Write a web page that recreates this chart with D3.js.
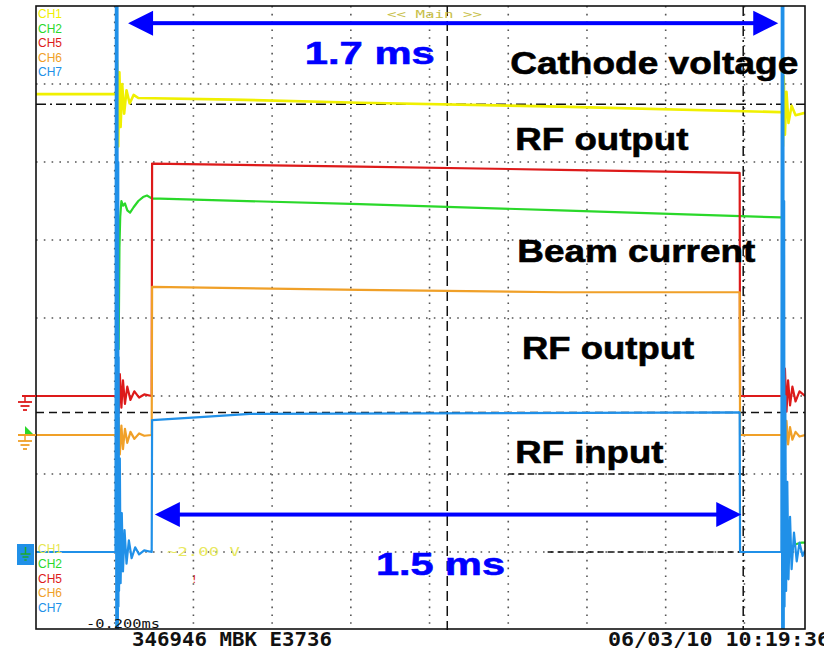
<!DOCTYPE html>
<html>
<head>
<meta charset="utf-8">
<script src="https://cdn.jsdelivr.net/npm/d3@7"></script>
<style>
  body { margin: 0; background: #fff; }
  svg { display: block; }
</style>
</head>
<body>
<div id="scope"></div>
<script>
// time in ms, level in screen divisions (0 = bottom of screen, 8 = top)
const ch1 = [[-0.2,6.87],[0.004,6.87],[0.006,7.3],[0.009,6.2],[0.012,7.15],[0.015,6.45],[0.019,7.0],[0.024,6.62],[0.030,6.92],[0.038,6.75],[0.048,6.86],[0.06,6.82],[0.3,6.8],[0.623,6.76],[1.132,6.71],[1.69,6.64],[1.696,6.64],[1.698,6.2],[1.700,7.1],[1.703,6.35],[1.707,6.9],[1.712,6.5],[1.72,6.72],[1.73,6.6],[1.754,6.63]];
const ch2 = [[-0.2,1.0],[0.006,1.0],[0.008,4.05],[0.010,3.6],[0.012,4.9],[0.014,5.3],[0.017,5.5],[0.021,5.44],[0.026,5.47],[0.032,5.38],[0.039,5.35],[0.048,5.42],[0.06,5.5],[0.072,5.55],[0.082,5.57],[0.095,5.53],[0.115,5.53],[0.623,5.46],[1.132,5.38],[1.691,5.29],[1.697,5.29],[1.698,3.5],[1.700,1.8],[1.703,1.35],[1.707,1.2],[1.712,1.1],[1.72,1.06],[1.73,1.1],[1.745,1.12],[1.754,1.12]];
const ch5 = [[-0.2,3.0],[0.005,3.0],[0.007,3.35],[0.010,2.78],[0.013,3.28],[0.017,2.85],[0.021,3.2],[0.026,2.9],[0.032,3.12],[0.04,2.95],[0.05,3.06],[0.062,2.98],[0.075,3.02],[0.094,3.0],[0.095,5.98],[0.623,5.94],[1.132,5.9],[1.588,5.86],[1.589,3.0],[1.696,3.0],[1.698,3.9],[1.700,2.7],[1.703,3.35],[1.707,2.8],[1.711,3.2],[1.716,2.88],[1.722,3.12],[1.73,2.93],[1.74,3.06],[1.754,3.0]];
const ch6 = [[-0.2,2.5],[0.005,2.5],[0.007,2.2],[0.010,2.72],[0.013,2.25],[0.017,2.62],[0.021,2.32],[0.026,2.58],[0.032,2.4],[0.04,2.54],[0.05,2.45],[0.062,2.52],[0.075,2.49],[0.094,2.5],[0.095,4.4],[0.623,4.36],[1.132,4.33],[1.588,4.33],[1.589,2.5],[1.696,2.5],[1.698,2.2],[1.700,2.85],[1.703,2.3],[1.707,2.68],[1.711,2.38],[1.716,2.6],[1.722,2.44],[1.73,2.54],[1.74,2.48],[1.754,2.5]];
const ch7 = [[-0.2,1.0],[0.002,1.0],[0.003,8.2],[0.004,-0.2],[0.005,8.2],[0.006,-0.2],[0.007,8.2],[0.008,-0.2],[0.009,6.0],[0.0095,0.3],[0.010,3.5],[0.011,0.5],[0.013,2.2],[0.015,0.6],[0.018,1.5],[0.021,0.75],[0.025,1.28],[0.03,0.85],[0.036,1.15],[0.043,0.92],[0.052,1.06],[0.062,0.97],[0.075,1.02],[0.094,1.0],[0.095,2.69],[0.217,2.73],[0.344,2.77],[1.0,2.78],[1.588,2.79],[1.589,1.0],[1.694,1.0],[1.695,8.2],[1.696,-0.2],[1.697,8.2],[1.698,-0.2],[1.699,8.2],[1.700,-0.2],[1.701,5.5],[1.702,0.3],[1.704,3.0],[1.706,0.5],[1.709,1.9],[1.712,0.65],[1.716,1.45],[1.72,0.78],[1.726,1.25],[1.733,0.88],[1.74,1.12],[1.748,0.95],[1.754,1.02]];

const channels = ["CH1","CH2","CH5","CH6","CH7"];
const chColors = ["#f0f000","#2ad82a","#dd1a1a","#f0a028","#2090e8"];
const gridTimes = [0, 0.2, 0.4, 0.6, 0.8, 1.0, 1.2, 1.4, 1.6];
const gridLevels = [1, 2, 3, 4, 5, 6, 7];
const groundLevels = [3.0, 2.5, 1.0]; // CH5, CH6, CH7 markers

// cursors: horizontal (level) and vertical (time) reference lines
const hCursors = [{v:6.74, from:-0.2, to:1.754, dash:"10,4,2,4"}, {v:2.79, from:-0.2, to:1.754, dash:"8,5"},
                  {v:2.0, from:1.0, to:1.597, dash:"6,4"}, {v:1.0, from:1.1, to:1.597, dash:"6,4"}];
const vCursors = [{t:0.845, dash:"10,5"}, {t:1.597, dash:"10,4,2,4"}];

// measured widths
const arrows = [{t0:0.034, t1:1.686, v:7.78}, {t0:0.102, t1:1.592, v:1.48}];
const notes = [
  {text:"1.7 ms", t:0.483, v:7.26, len:130, color:"#0000ff"},
  {text:"Cathode voltage", t:1.005, v:7.13, len:288, color:"#000"},
  {text:"RF output", t:1.018, v:6.15, len:173, color:"#000"},
  {text:"Beam current", t:1.023, v:4.72, len:238, color:"#000"},
  {text:"RF output", t:1.035, v:3.47, len:172, color:"#000"},
  {text:"RF input", t:1.018, v:2.14, len:148, color:"#000"},
  {text:"1.5 ms", t:0.664, v:0.71, len:129, color:"#0000ff"}
];

const W = 824, H = 651;
const svg = d3.select("#scope").append("svg").attr("width", W).attr("height", H);

const x = d3.scaleLinear().domain([-0.2, 1.754]).range([36, 805]);
const y = d3.scaleLinear().domain([0, 8]).range([630, 6]);

svg.append("clipPath").attr("id", "screen")
  .append("rect").attr("x", 36).attr("y", 6).attr("width", 769).attr("height", 623);

// dotted grid
const grid = svg.append("g").attr("stroke", "#555").attr("stroke-width", 1.6).attr("stroke-dasharray", "1.6,6.2");
grid.selectAll(".gh").data(gridLevels).join("line")
  .attr("x1", x(-0.2)).attr("x2", x(1.754)).attr("y1", d => y(d)).attr("y2", d => y(d));
grid.selectAll(".gv").data(gridTimes).join("line")
  .attr("x1", d => x(d)).attr("x2", d => x(d)).attr("y1", y(8)).attr("y2", y(0));

// cursors
const cur = svg.append("g").attr("stroke", "#111").attr("stroke-width", 1.5).attr("fill", "none");
cur.selectAll(".hc").data(hCursors).join("line")
  .attr("x1", d => x(d.from)).attr("x2", d => x(d.to)).attr("y1", d => y(d.v)).attr("y2", d => y(d.v))
  .attr("stroke-dasharray", d => d.dash);
cur.selectAll(".vc").data(vCursors).join("line")
  .attr("x1", d => x(d.t)).attr("x2", d => x(d.t)).attr("y1", y(8)).attr("y2", y(0))
  .attr("stroke-dasharray", d => d.dash);

// traces
const line = d3.line().x(d => x(d[0])).y(d => y(d[1]));
const traces = [ch1, ch2, ch5, ch6, ch7];
const tg = svg.append("g").attr("clip-path", "url(#screen)");
tg.selectAll("path").data(traces).join("path")
  .attr("d", line)
  .attr("fill", "none")
  .attr("stroke", (d, i) => chColors[i])
  .attr("stroke-width", (d, i) => i === 0 ? 2.6 : 2.2)
  .attr("stroke-linejoin", "round");

// frame
svg.append("rect").attr("x", 36).attr("y", 6).attr("width", 769).attr("height", 623)
  .attr("fill", "none").attr("stroke", "#111").attr("stroke-width", 1.6);

// ground markers on the left
function groundSym(g, cx, top, col) {
  g.append("line").attr("x1", cx).attr("x2", cx).attr("y1", top - 5).attr("y2", top).attr("stroke", col).attr("stroke-width", 1.5);
  [[7, 0], [4.5, 4], [2, 8]].forEach(s => {
    g.append("line").attr("x1", cx - s[0]).attr("x2", cx + s[0]).attr("y1", top + s[1]).attr("y2", top + s[1])
      .attr("stroke", col).attr("stroke-width", 1.8);
  });
}
const gm = svg.append("g");
gm.append("line").attr("x1", 22).attr("x2", 36).attr("y1", y(groundLevels[0])).attr("y2", y(groundLevels[0]))
  .attr("stroke", chColors[2]).attr("stroke-width", 2);
groundSym(gm, 25, y(groundLevels[0]) + 6, chColors[2]);
gm.append("path").attr("d", `M25,${y(groundLevels[1]) - 9}L33,${y(groundLevels[1]) - 1}L25,${y(groundLevels[1]) - 1}Z`)
  .attr("fill", chColors[1]);
gm.append("line").attr("x1", 18).attr("x2", 36).attr("y1", y(groundLevels[1])).attr("y2", y(groundLevels[1]))
  .attr("stroke", chColors[3]).attr("stroke-width", 2);
groundSym(gm, 25, y(groundLevels[1]) + 6, chColors[3]);
gm.append("rect").attr("x", 17).attr("y", y(groundLevels[2]) - 8).attr("width", 17).attr("height", 21)
  .attr("fill", chColors[4]);
gm.append("line").attr("x1", 25.5).attr("x2", 25.5).attr("y1", y(groundLevels[2]) - 5).attr("y2", y(groundLevels[2]) + 2)
  .attr("stroke", "#1faa2a").attr("stroke-width", 1.5);
[[5, 2], [3, 5], [1.2, 8]].forEach(s => {
  gm.append("line").attr("x1", 25.5 - s[0]).attr("x2", 25.5 + s[0])
    .attr("y1", y(groundLevels[2]) + s[1]).attr("y2", y(groundLevels[2]) + s[1])
    .attr("stroke", "#1faa2a").attr("stroke-width", 1.5);
});

// channel labels
const lab = svg.append("g").attr("font-family", "Liberation Sans, Arial, sans-serif").attr("font-size", 12);
lab.selectAll(".top").data(channels).join("text")
  .attr("x", 38).attr("y", (d, i) => 18 + i * 14.6)
  .attr("fill", (d, i) => chColors[i]).text(d => d);
lab.selectAll(".bot").data(channels).join("text")
  .attr("x", 38).attr("y", (d, i) => 553 + i * 14.8)
  .attr("fill", (d, i) => i === 0 ? "#e6e650" : chColors[i]).text(d => d);

const mono = "DejaVu Sans Mono, Liberation Mono, monospace";
svg.append("text").attr("x", 387).attr("y", 18).attr("font-family", mono).attr("font-size", 11)
  .attr("fill", "#c8c048").attr("textLength", 95).attr("lengthAdjust", "spacingAndGlyphs").text("<< Main >>");
svg.append("text").attr("x", 167).attr("y", 556).attr("font-family", mono).attr("font-size", 12)
  .attr("fill", "#e8e860").attr("textLength", 73).attr("lengthAdjust", "spacingAndGlyphs").text("~2.00 V");
svg.append("text").attr("x", 191).attr("y", 583).attr("font-family", mono).attr("font-size", 11)
  .attr("fill", "#dd1a1a").text("!");
svg.append("text").attr("x", 86).attr("y", 628).attr("font-family", mono).attr("font-size", 12)
  .attr("fill", "#111").attr("textLength", 74).attr("lengthAdjust", "spacingAndGlyphs").text("-0.200ms");
svg.append("text").attr("x", 132).attr("y", 646).attr("font-family", mono).attr("font-size", 19).attr("font-weight", "bold")
  .attr("fill", "#111").attr("textLength", 200).attr("lengthAdjust", "spacingAndGlyphs").text("346946 MBK E3736");
svg.append("text").attr("x", 608).attr("y", 646).attr("font-family", mono).attr("font-size", 19).attr("font-weight", "bold")
  .attr("fill", "#111").attr("textLength", 222).attr("lengthAdjust", "spacingAndGlyphs").text("06/03/10 10:19:36");

// measurement arrows
const ar = svg.append("g").attr("fill", "#0000ff");
arrows.forEach(a => {
  const x0 = x(a.t0), x1 = x(a.t1), yy = y(a.v);
  ar.append("rect").attr("x", x0 + 20).attr("y", yy - 2).attr("width", x1 - x0 - 40).attr("height", 4);
  ar.append("path").attr("d", `M${x0},${yy}L${x0 + 25},${yy - 12.5}L${x0 + 25},${yy + 12.5}Z`);
  ar.append("path").attr("d", `M${x1},${yy}L${x1 - 25},${yy - 12.5}L${x1 - 25},${yy + 12.5}Z`);
});

// annotations
svg.append("g").selectAll("text").data(notes).join("text")
  .attr("x", d => x(d.t)).attr("y", d => y(d.v))
  .attr("font-family", "Liberation Sans, Arial, sans-serif").attr("font-weight", "bold").attr("font-size", 32)
  .attr("fill", d => d.color).attr("stroke", d => d.color).attr("stroke-width", 0.6)
  .attr("textLength", d => d.len).attr("lengthAdjust", "spacingAndGlyphs")
  .text(d => d.text);
</script>
</body>
</html>
